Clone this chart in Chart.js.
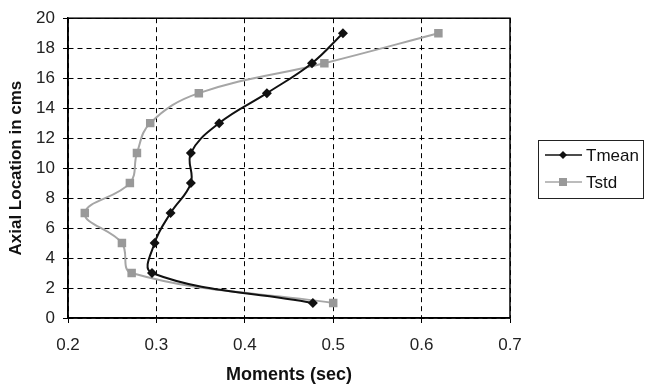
<!DOCTYPE html>
<html>
<head>
<meta charset="utf-8">
<script src="https://cdn.jsdelivr.net/npm/chart.js@4"></script>
<style>
  html, body { margin: 0; padding: 0; background: #fff; }
  #wrap { width: 647px; height: 384px; position: relative; }
</style>
</head>
<body>
<div id="wrap"><canvas id="moments"></canvas></div>
<script>
// values
const axialLocation = [1, 3, 5, 7, 9, 11, 13, 15, 17, 19];
const tmean = [0.477, 0.295, 0.298, 0.316, 0.339, 0.339, 0.371, 0.425, 0.476, 0.511];
const tstd = [0.500, 0.272, 0.261, 0.219, 0.270, 0.278, 0.293, 0.348, 0.490, 0.619];
const xTicks = [0.2, 0.3, 0.4, 0.5, 0.6, 0.7];

const toPoints = vals => vals.map((v, i) => ({ x: v, y: axialLocation[i] }));

const FONT = 'Arial, "Liberation Sans", sans-serif';

// solid frame round the plot + boxed legend on the right
const frameAndLegend = {
    id: 'frameAndLegend',
    afterDraw(chart) {
        const { ctx, chartArea: a } = chart;
        ctx.save();
        ctx.strokeStyle = '#000';
        ctx.lineWidth = 1.5;
        ctx.strokeRect(a.left, a.top, a.right - a.left, a.bottom - a.top);

        const bx = 538, by = 140, bw = 105, bh = 58;
        ctx.lineWidth = 1;
        ctx.strokeStyle = '#222';
        ctx.strokeRect(bx + 0.5, by + 0.5, bw, bh);
        ctx.font = '17px ' + FONT;
        ctx.textBaseline = 'middle';
        chart.data.datasets.forEach((ds, i) => {
            const y = by + 15 + i * 27;
            ctx.strokeStyle = ds.borderColor;
            ctx.lineWidth = 1.5;
            ctx.beginPath();
            ctx.moveTo(bx + 7, y);
            ctx.lineTo(bx + 44, y);
            ctx.stroke();
            ctx.fillStyle = ds.pointBackgroundColor;
            ctx.beginPath();
            if (ds.pointStyle === 'rectRot') {
                ctx.moveTo(bx + 25, y - 4);
                ctx.lineTo(bx + 29, y);
                ctx.lineTo(bx + 25, y + 4);
                ctx.lineTo(bx + 21, y);
                ctx.closePath();
            } else {
                ctx.rect(bx + 21, y - 4, 8, 8);
            }
            ctx.fill();
            ctx.fillStyle = '#111';
            ctx.fillText(ds.label, bx + 48, y + 1);
        });
        ctx.restore();
    }
};

new Chart(document.getElementById('moments'), {
    type: 'scatter',
    data: {
        datasets: [{
            label: 'Tmean',
            data: toPoints(tmean),
            showLine: true,
            tension: 0.4,
            borderColor: '#111',
            borderWidth: 2,
            pointStyle: 'rectRot',
            pointRadius: 5,
            pointBackgroundColor: '#111',
            pointBorderColor: '#111',
            pointBorderWidth: 0
        }, {
            label: 'Tstd',
            data: toPoints(tstd),
            showLine: true,
            tension: 0.4,
            borderColor: '#a6a6a6',
            borderWidth: 2,
            pointStyle: 'rect',
            pointRadius: 6,
            pointBackgroundColor: '#999',
            pointBorderColor: '#999',
            pointBorderWidth: 0
        }]
    },
    options: {
        responsive: true,
        maintainAspectRatio: false,
        animation: false,
        layout: { padding: { top: 17, right: 137, left: 0, bottom: 0 } },
        plugins: {
            legend: { display: false },
            tooltip: { enabled: false }
        },
        scales: {
            x: {
                type: 'linear',
                min: 0.2,
                max: 0.7,
                afterBuildTicks: scale => { scale.ticks = xTicks.map(v => ({ value: v })); },
                afterFit: scale => { scale.height = 66; },
                grid: { color: '#000', lineWidth: 1, tickLength: 5, tickColor: '#000' },
                border: { color: '#000', width: 1.5, dash: [5, 4] },
                ticks: {
                    color: '#222',
                    font: { family: FONT, size: 17 },
                    padding: 12,
                    callback: v => v.toFixed(1)
                },
                title: {
                    display: true,
                    text: 'Moments (sec)',
                    color: '#111',
                    font: { family: FONT, size: 18, weight: 'bold' },
                    padding: { top: 4, bottom: -2 }
                }
            },
            y: {
                type: 'linear',
                min: 0,
                max: 20,
                afterFit: scale => { scale.width = 68; },
                grid: { color: '#000', lineWidth: 1, tickLength: 5, tickColor: '#000' },
                border: { color: '#000', width: 1.5, dash: [5, 4] },
                ticks: {
                    stepSize: 2,
                    color: '#222',
                    font: { family: FONT, size: 17 },
                    padding: 8
                },
                title: {
                    display: true,
                    text: 'Axial Location in cms',
                    color: '#111',
                    font: { family: FONT, size: 17, weight: 'bold' },
                    padding: { top: 6, bottom: 4 }
                }
            }
        }
    },
    plugins: [frameAndLegend]
});
</script>
</body>
</html>
